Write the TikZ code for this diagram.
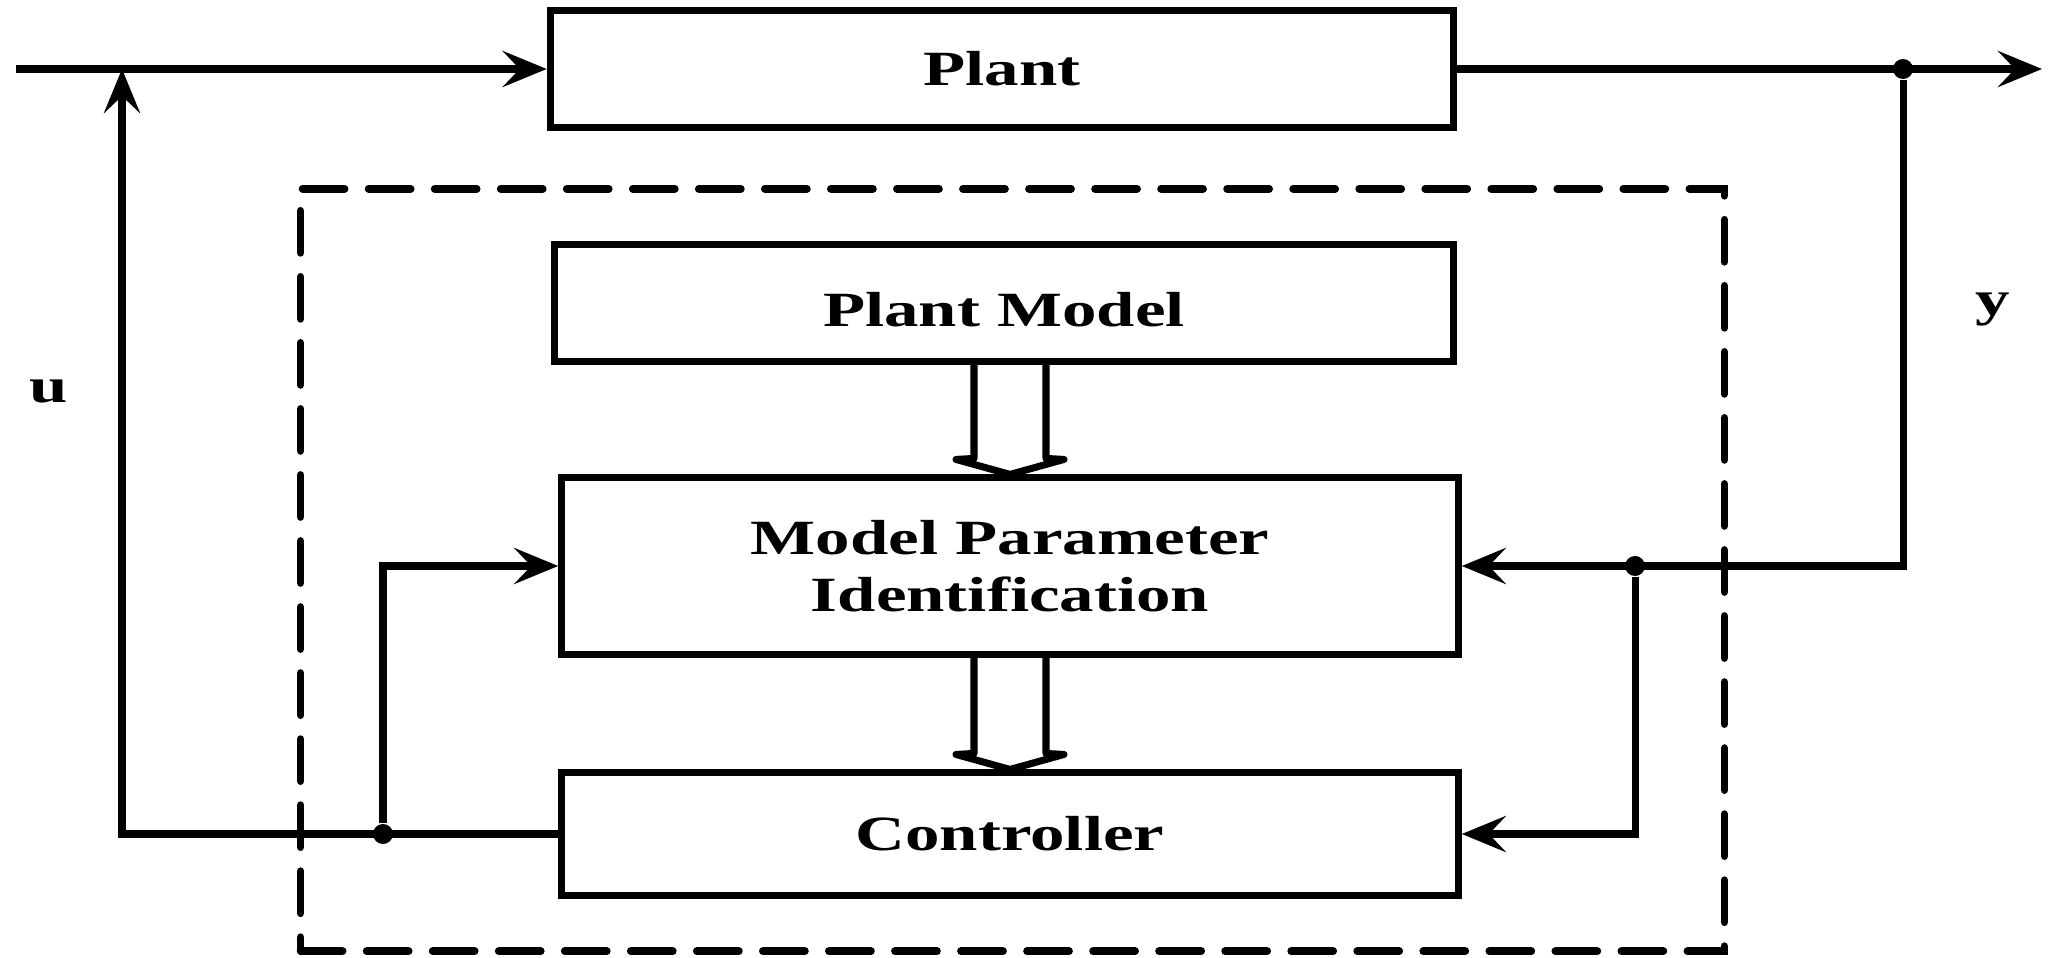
\documentclass[tikz,border=0pt]{standalone}
\usepackage{fontspec}
\newfontfamily\blockfamily{Liberation Serif}[FakeStretch=1.4]
\newcommand\blockfont{\blockfamily\bfseries\fontsize{14}{16.2}\selectfont}
\usetikzlibrary{arrows.meta,calc}
\begin{document}
\begin{tikzpicture}[x=0.01cm,y=-0.01cm,
  blk/.style={draw, line width=2pt, rectangle, inner sep=0pt, font=\blockfont, align=center},
  wire/.style={line width=2pt},
  sig/.style={wire, -{Stealth[length=0.44cm,width=0.36cm,inset=0.17cm]}},
  jdot/.style={circle, fill, inner sep=0pt, minimum size=0.2cm},
  frame/.style={draw, line width=2.2pt, dash pattern=on 0.42cm off 0.24cm, line cap=round, inner sep=0pt},
  lbl/.style={font=\blockfont, inner sep=0pt},
  fat/.style={wire, line join=round}]
\useasboundingbox (0,0) rectangle (2072,958);

% estimator / controller boundary
\node[frame, minimum width=14.23cm, minimum height=7.62cm] (frm) at (1012.5,570) {};

% blocks
\node[blk, minimum width=9.03cm, minimum height=1.17cm] (plant) at (1002,69) {Plant};
\node[blk, minimum width=8.99cm, minimum height=1.17cm] (pm) at (1004,303) {\raisebox{-0.07cm}[\height][\depth]{Plant Model}};
\node[blk, minimum width=8.96cm, minimum height=1.76cm] (mpi) at (1010,566) {Model Parameter\\Identification};
\node[blk, minimum width=8.96cm, minimum height=1.22cm] (ctrl) at (1010,834) {Controller};

% signal labels
\node[lbl] (ulab) at (49,392) {u};
\node[lbl] (ylab) at (1993,310) {y};

% free ends and junctions
\coordinate (in) at (16,69);
\coordinate (out) at (2042,69);
\coordinate (utop) at (122,69);
\node[jdot] (jy) at (1903,69) {};
\node[jdot] (jy2) at (1635,566) {};
\node[jdot] (ju) at (383,834) {};

% main loop
\draw[sig] (in) -- (plant.west);
\draw[sig] (plant.east) -- (out);
\draw[sig] (ctrl.west) -| (utop);
\draw[sig] (jy) |- (mpi.east);
\draw[sig] (jy2) |- (ctrl.east);
\draw[sig] (ju) |- (mpi.west);

% double-line arrows: model -> identification -> controller
\draw[fat] ($(pm.south -| mpi.north)+(-36,0)$) -- ($(mpi.north)+(-36,-16)$)
  -- ($(mpi.north)+(-54,-15)$) -- (mpi.north) -- ($(mpi.north)+(54,-15)$)
  -- ($(mpi.north)+(36,-16)$) -- ($(pm.south -| mpi.north)+(36,0)$);
\draw[fat] ($(mpi.south)+(-36,0)$) -- ($(ctrl.north)+(-36,-16)$)
  -- ($(ctrl.north)+(-54,-15)$) -- (ctrl.north) -- ($(ctrl.north)+(54,-15)$)
  -- ($(ctrl.north)+(36,-16)$) -- ($(mpi.south)+(36,0)$);
\end{tikzpicture}
\end{document}
